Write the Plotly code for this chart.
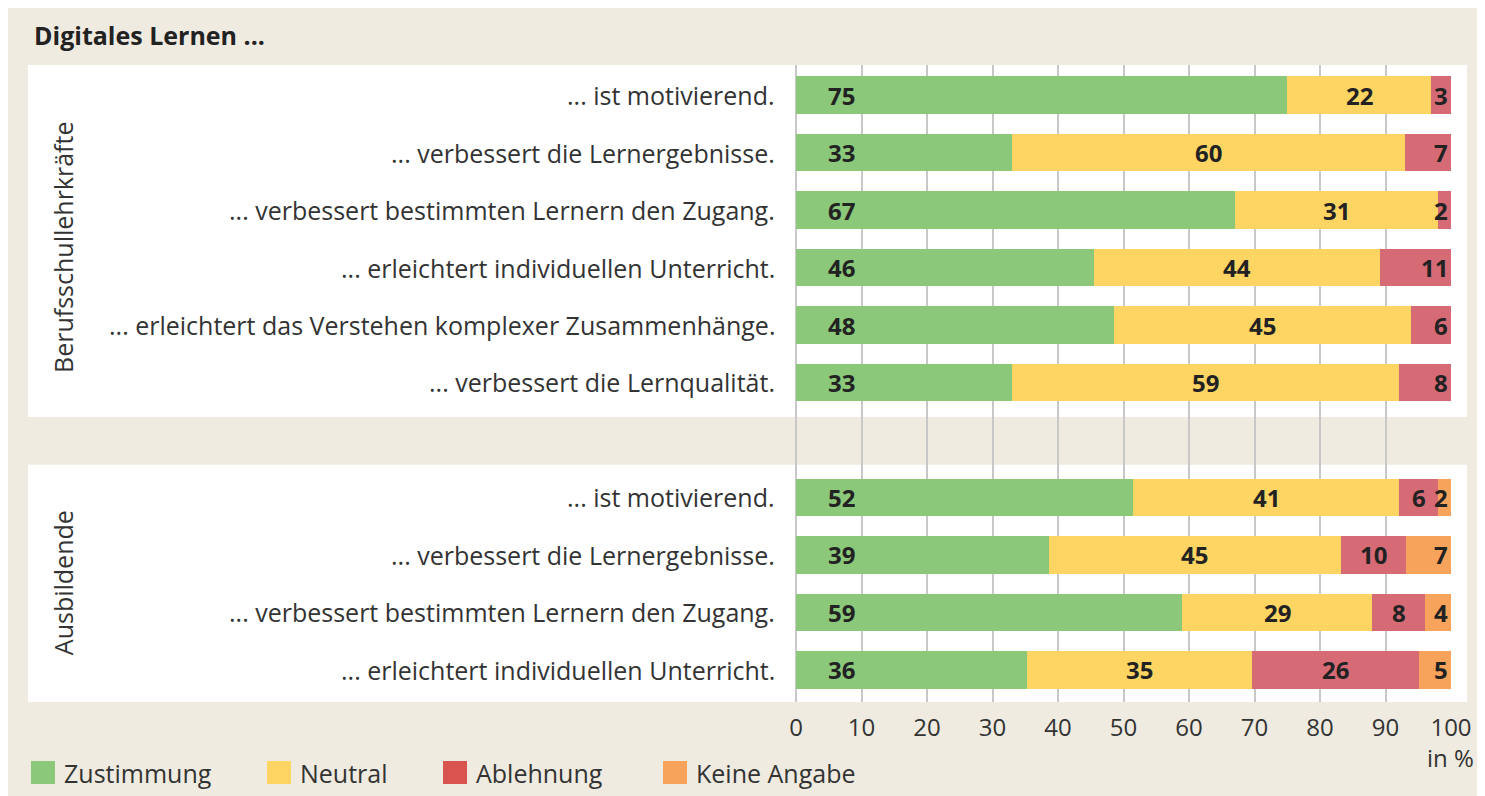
import plotly.graph_objects as go

# ---------------- data ----------------
title_text = "Digitales Lernen ..."
groups = ["Berufsschullehrkräfte", "Ausbildende"]
categories_top = [
    "... ist motivierend.",
    "... verbessert die Lernergebnisse.",
    "... verbessert bestimmten Lernern den Zugang.",
    "... erleichtert individuellen Unterricht.",
    "... erleichtert das Verstehen komplexer Zusammenhänge.",
    "... verbessert die Lernqualität.",
]
categories_bottom = [
    "... ist motivierend.",
    "... verbessert die Lernergebnisse.",
    "... verbessert bestimmten Lernern den Zugang.",
    "... erleichtert individuellen Unterricht.",
]
series_names = ["Zustimmung", "Neutral", "Ablehnung", "Keine Angabe"]
zustimmung_top = [75, 33, 67, 46, 48, 33]
neutral_top = [22, 60, 31, 44, 45, 59]
ablehnung_top = [3, 7, 2, 11, 6, 8]
keine_top = [None, None, None, None, None, None]
zustimmung_bottom = [52, 39, 59, 36]
neutral_bottom = [41, 45, 29, 35]
ablehnung_bottom = [6, 10, 8, 26]
keine_bottom = [2, 7, 4, 5]
x_ticks = [0, 10, 20, 30, 40, 50, 60, 70, 80, 90, 100]
unit_label = "in %"

# ---------------- styling ----------------
# page body has an 8px margin; figure sized so it reaches the window edges
OFF = 8
W, H = 1485 - OFF, 796 - OFF
PLOT_L, PLOT_R, PLOT_T, PLOT_B = 796, 1451, 65, 702   # screen pixels of plot area
L, R, T, B = PLOT_L - OFF, W - (PLOT_R - OFF), PLOT_T - OFF, H - (PLOT_B - OFF)
PW, PH = PLOT_R - PLOT_L, PLOT_B - PLOT_T
BG = "#efebe1"
COLORS = ["#8bc87a", "#fed563", "#d66b76", "#f7a35c"]
LEGEND_COLORS = ["#8bc87a", "#fed563", "#d9534f", "#f7a35c"]
FONT = "'Open Sans', 'Noto Sans', sans-serif"
TXT = "#333333"
NUM = "#222222"
FS = 25

def px2x(px):
    return (px - PLOT_L) / PW

def py2y(py):
    return (PLOT_B - py) / PH

# y positions: top group 0..5, empty slot 6, bottom group 7..10
pos_top = list(range(len(categories_top)))
pos_bottom = [len(categories_top) + 1 + i for i in range(len(categories_bottom))]
y_all = pos_top + pos_bottom
y_range = [10.557, -0.522]

series_vals = [
    zustimmung_top + zustimmung_bottom,
    neutral_top + neutral_bottom,
    ablehnung_top + ablehnung_bottom,
    keine_top + keine_bottom,
]

fig = go.Figure()
for name, vals, col in zip(series_names, series_vals, COLORS):
    fig.add_trace(go.Bar(
        y=y_all, x=vals, name=name, orientation="h",
        marker=dict(color=col, line=dict(width=0)),
        width=0.66, showlegend=False, hoverinfo="x+name",
    ))

annotations = []
shapes = []

# value labels (positions follow the percent-normalised stacking)
for i, y in enumerate(y_all):
    row = [series_vals[s][i] for s in range(4)]
    present = [s for s in range(4) if row[s] is not None]
    total = sum(row[s] for s in present)
    last = present[-1]
    start = 0.0
    for s in present:
        v = row[s]
        end = start + v * 100.0 / total
        if s == 0:
            xpos, anchor, shift = 7, "center", 0
        elif s == last:
            xpos, anchor, shift = 100, "right", -1
        else:
            xpos, anchor, shift = (start + end) / 2, "center", 0
        annotations.append(dict(
            x=xpos, y=y, xref="x", yref="y", text="<b>%d</b>" % v,
            showarrow=False, xanchor=anchor, yanchor="middle", xshift=shift,
            font=dict(family=FONT, size=24, color=NUM),
        ))
        start = end

# category labels
for cats, poss in ((categories_top, pos_top), (categories_bottom, pos_bottom)):
    for c, p in zip(cats, poss):
        annotations.append(dict(
            x=px2x(777), y=p, xref="paper", yref="y", text=c, showarrow=False,
            xanchor="right", yanchor="middle",
            font=dict(family=FONT, size=FS, color=TXT),
        ))

# group labels (rotated)
group_centers = [2.66, 8.49]
for g, c in zip(groups, group_centers):
    annotations.append(dict(
        x=px2x(63), y=c, xref="paper", yref="y", text=g, showarrow=False,
        textangle=-90, xanchor="center", yanchor="middle",
        font=dict(family=FONT, size=FS, color=TXT),
    ))

# white panels
panel_x0, panel_x1 = px2x(28), px2x(1467)
shapes.append(dict(type="rect", xref="paper", yref="y", x0=panel_x0, x1=panel_x1,
                   y0=y_range[1], y1=pos_top[-1] + 0.6, fillcolor="white",
                   line=dict(width=0), layer="below"))
shapes.append(dict(type="rect", xref="paper", yref="y", x0=panel_x0, x1=panel_x1,
                   y0=pos_bottom[0] - 0.57, y1=y_range[0], fillcolor="white",
                   line=dict(width=0), layer="below"))

# title
annotations.append(dict(
    x=px2x(32), y=py2y(35), xref="paper", yref="paper", text="<b>" + title_text + "</b>",
    showarrow=False, xanchor="left", yanchor="middle",
    font=dict(family=FONT, size=FS, color="#222222"),
))

# unit label
annotations.append(dict(
    x=px2x(1476), y=py2y(758), xref="paper", yref="paper", text=unit_label,
    showarrow=False, xanchor="right", yanchor="middle",
    font=dict(family=FONT, size=24, color=TXT),
))

# legend
legend_sq_x = [31, 267, 443, 663]
for name, col, sx in zip(series_names, LEGEND_COLORS, legend_sq_x):
    shapes.append(dict(type="rect", xref="paper", yref="paper",
                       x0=px2x(sx), x1=px2x(sx + 24), y0=py2y(761), y1=py2y(784),
                       fillcolor=col, line=dict(width=0)))
    annotations.append(dict(
        x=px2x(sx + 31), y=py2y(773), xref="paper", yref="paper", text=name,
        showarrow=False, xanchor="left", yanchor="middle",
        font=dict(family=FONT, size=FS, color=TXT),
    ))

fig.update_layout(
    width=W, height=H, margin=dict(l=L, r=R, t=T, b=B, autoexpand=False),
    paper_bgcolor=BG, plot_bgcolor="rgba(0,0,0,0)",
    barmode="stack", barnorm="percent", bargap=0,
    annotations=annotations, shapes=shapes, showlegend=False,
    xaxis=dict(range=[0, 100], tickvals=x_ticks, ticktext=[str(t) for t in x_ticks],
               showgrid=True, gridcolor="#c8c8c8", gridwidth=2,
               zeroline=True, zerolinecolor="#c8c8c8", zerolinewidth=2,
               showline=False, ticks="", fixedrange=True, ticklabelstandoff=9,
               tickfont=dict(family=FONT, size=24, color=TXT)),
    yaxis=dict(range=y_range, showgrid=False, zeroline=False, showticklabels=False,
               ticks="", fixedrange=True),
)

fig.write_html(
    "out.html",
    post_script="document.documentElement.style.overflow='hidden';"
                "document.body.style.overflow='hidden';",
)
